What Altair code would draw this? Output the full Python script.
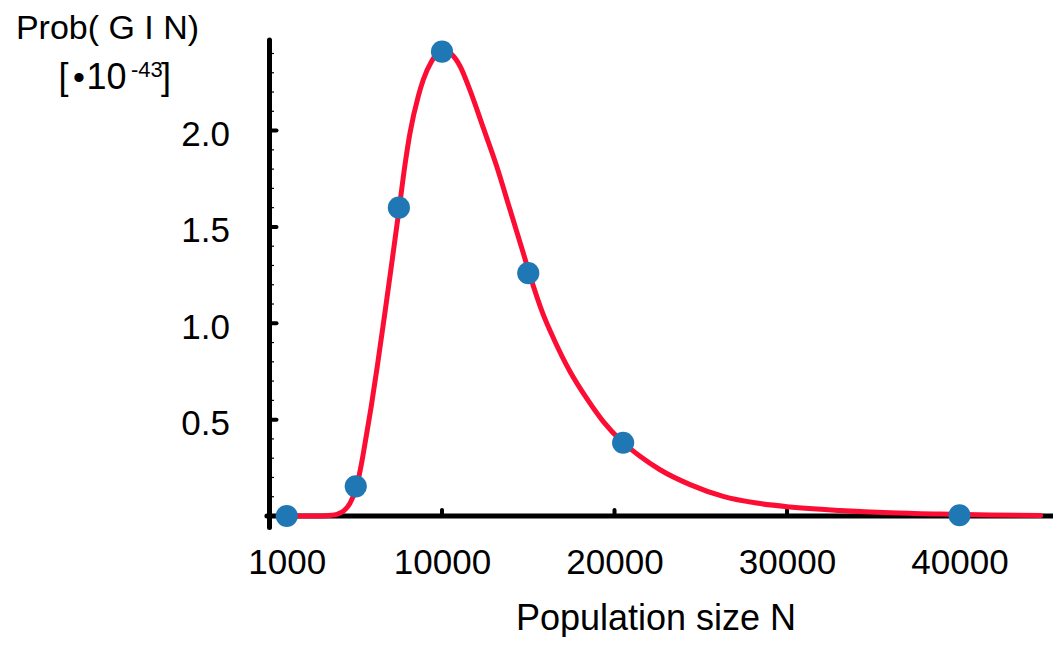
import altair as alt
import pandas as pd

# ---- data ----
curve_n = [1000, 2000, 3000, 3600, 4000, 4300, 4670, 5055, 5350, 5600, 5900, 6270, 6700,
           7100, 7525, 7850, 8150, 8630, 8920, 9400, 9800, 10100, 10560, 11040, 11620,
           12390, 13170, 13940, 14710, 15060, 15870, 16500, 17420, 18390, 19350, 20510,
           21480, 22640, 24380, 26300, 28240, 30170, 33070, 35970, 38870, 41770, 44700]
curve_p = [0.0, 0.0, 0.0, 0.004, 0.012, 0.027, 0.067, 0.154, 0.28, 0.41, 0.57, 0.79, 1.06,
           1.32, 1.60, 1.82, 1.99, 2.18, 2.265, 2.36, 2.405, 2.415, 2.395, 2.335, 2.21,
           2.015, 1.815, 1.59, 1.365, 1.26, 1.045, 0.915, 0.75, 0.61, 0.49, 0.38,
           0.31, 0.24, 0.163, 0.102, 0.067, 0.047, 0.029, 0.017, 0.010, 0.005, 0.002]

point_n = [1000, 5000, 7500, 10000, 15000, 20500, 40000]
point_p = [0.0, 0.154, 1.60, 2.41, 1.26, 0.38, 0.004]

x_tick_labels = [1000, 10000, 20000, 30000, 40000]
x_tick_marks = [10000, 20000, 30000, 40000]
y_tick_labels = [0.5, 1.0, 1.5, 2.0]
y_minor = [0.1, 0.2, 0.3, 0.4, 0.6, 0.7, 0.8, 0.9, 1.1, 1.2, 1.3, 1.4,
           1.6, 1.7, 1.8, 1.9, 2.1, 2.2, 2.3, 2.4]

X_MAX = 45390
Y_MAX = 2.47
W, H = 783, 476
FONT = "Liberation Sans"
RED = "#fc0e34"
BLUE = "#1f77b4"

xs = alt.Scale(domain=[0, X_MAX], nice=False, zero=False)
ys = alt.Scale(domain=[0, Y_MAX], nice=False, zero=False)

curve_df = pd.DataFrame({"N": curve_n, "P": curve_p})
pts_df = pd.DataFrame({"N": point_n, "P": point_p})

x_axis = alt.Axis(values=x_tick_labels, format="d", domain=False, ticks=False, tickSize=0,
                  grid=False, labelFontSize=35, labelFont=FONT, labelColor="black",
                  labelBaseline="alphabetic", labelPadding=57, labelFlush=False,
                  labelOverlap=False,
                  title="Population size N", titleFont=FONT, titleFontSize=36,
                  titleFontWeight="normal", titleColor="black", titleX=386, titleY=113,
                  titleBaseline="alphabetic", titleAlign="center", titleAnchor="start")
y_axis = alt.Axis(values=y_tick_labels, format=".1f", domain=False, ticks=False, tickSize=0,
                  grid=False, labelFontSize=35, labelFont=FONT, labelColor="black",
                  labelBaseline="alphabetic", labelOffset=15, labelPadding=40,
                  labelFlush=False, labelOverlap=False, title=None)

# axis lines
xline_df = pd.DataFrame({"N": [-150], "N2": [X_MAX], "P": [0.0]})
x_line = alt.Chart(xline_df).mark_rule(color="black", strokeWidth=5, strokeCap="round").encode(
    x=alt.X("N:Q", scale=xs, axis=x_axis), x2="N2:Q", y=alt.Y("P:Q", scale=ys, axis=y_axis))

yline_df = pd.DataFrame({"N": [0], "P": [-0.06], "P2": [Y_MAX]})
y_line = alt.Chart(yline_df).mark_rule(color="black", strokeWidth=5, strokeCap="round").encode(
    x=alt.X("N:Q", scale=xs), y=alt.Y("P:Q", scale=ys), y2="P2:Q")

ytick_df = pd.DataFrame({"P": y_tick_labels})
y_ticks = alt.Chart(ytick_df).mark_rule(color="black", strokeWidth=4, strokeCap="round").encode(
    y=alt.Y("P:Q", scale=ys), x=alt.value(0), x2=alt.value(7))

yminor_df = pd.DataFrame({"P": y_minor})
y_minor_ticks = alt.Chart(yminor_df).mark_rule(color="black", strokeWidth=1.2).encode(
    y=alt.Y("P:Q", scale=ys), x=alt.value(1), x2=alt.value(4.5))

xtick_df = pd.DataFrame({"N": x_tick_marks})
x_ticks = alt.Chart(xtick_df).mark_rule(color="black", strokeWidth=4, strokeCap="round").encode(
    x=alt.X("N:Q", scale=xs), y=alt.value(H), y2=alt.value(H - 6))

curve = alt.Chart(curve_df).mark_line(color=RED, strokeWidth=5, interpolate="monotone",
                                      strokeCap="round").encode(
    x=alt.X("N:Q", scale=xs), y=alt.Y("P:Q", scale=ys))

points = alt.Chart(pts_df).mark_circle(color=BLUE, size=490, opacity=1).encode(
    x=alt.X("N:Q", scale=xs), y=alt.Y("P:Q", scale=ys))


def label(txt, x, y, size, align):
    return alt.Chart(pd.DataFrame({"t": [txt]})).mark_text(
        font=FONT, fontSize=size, align=align, baseline="alphabetic", color="black"
    ).encode(text="t:N", x=alt.value(x), y=alt.value(y))


# y title made of text pieces (with superscript)
titles = [
    label("Prob( G I N)", -162, -1, 34, "center"),
    label("[", -211, 49, 36, "left"),
    label("•", -190.5, 49, 34, "center"),
    label("10", -143, 49, 36, "right"),
    label("-43", -138.5, 37, 22, "left"),
    label("]", -108.5, 49, 36, "left"),
]

chart = alt.layer(
    x_line, y_line, y_minor_ticks, y_ticks, x_ticks, curve, points, *titles
).properties(
    width=W, height=H,
    autosize=alt.AutoSizeParams(type="none"),
    padding={"left": 261.5, "top": 32, "right": 0, "bottom": 121},
).configure(font=FONT).configure_view(stroke="transparent", strokeWidth=0)

chart.save("out.html", embed_options={"renderer": "svg", "actions": False})
